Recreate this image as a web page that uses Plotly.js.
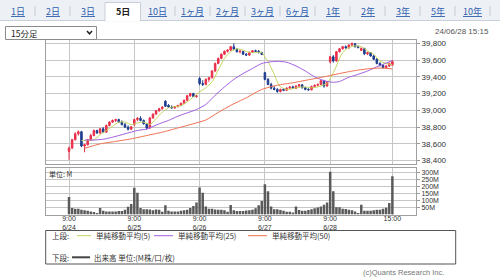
<!DOCTYPE html>
<html><head><meta charset="utf-8">
<script src="https://cdn.plot.ly/plotly-3.0.1.min.js"></script>
<style>html,body{margin:0;padding:0;background:#fff;}#chart{width:500px;height:280px;}</style>
</head><body><div id="chart"></div>
<script>
// ---- data ----
const days = ['6/24','6/25','6/26','6/27','6/28'];
const times = ['9:00','9:15','9:30','9:45','10:00','10:15','10:30','10:45','11:00','11:15',
               '12:30','12:45','13:00','13:15','13:30','13:45','14:00','14:15','14:30','14:45','15:00'];
const openP = [
38510,38550,38650,38720,38745,38575,38590,38650,38700,38760,38730,38780,38740,38820,38860,38880,38890,38860,38830,38800,38775,
38830,38890,38905,38880,38840,38790,38910,38955,38995,39020,39110,39060,39040,39030,39045,39060,39085,39120,39175,39200,39165,
39380,39320,39310,39370,39390,39470,39560,39620,39670,39705,39720,39760,39730,39700,39705,39670,39660,39695,39712,39705,39690,
39450,39370,39310,39265,39250,39225,39250,39240,39265,39280,39262,39290,39305,39270,39250,39245,39285,39300,39310,39355,39290,
39580,39640,39590,39700,39735,39760,39745,39780,39795,39760,39715,39740,39675,39690,39650,39610,39560,39535,39510,39530,39540];
const highP = [
38570,38660,38740,38760,38755,38600,38660,38720,38770,38770,38790,38800,38830,38870,38890,38900,38900,38880,38850,38820,38810,
38900,38920,38930,38890,38850,38920,38965,39005,39030,39050,39120,39075,39060,39050,39065,39090,39130,39185,39210,39210,39185,
39400,39360,39380,39400,39480,39570,39630,39680,39715,39730,39770,39800,39745,39720,39710,39685,39700,39720,39725,39720,39700,
39460,39385,39330,39290,39265,39260,39262,39275,39290,39295,39300,39315,39310,39280,39265,39295,39310,39320,39360,39365,39350,
39650,39660,39710,39745,39770,39775,39790,39810,39800,39775,39750,39745,39700,39695,39665,39625,39575,39550,39540,39570,39600];
const lowP = [
38410,38540,38640,38700,38560,38500,38580,38640,38690,38720,38720,38730,38730,38810,38850,38860,38850,38820,38790,38760,38770,
38810,38870,38870,38830,38770,38780,38900,38950,38985,39010,39040,39030,39020,39020,39035,39050,39075,39110,39160,39160,39150,
39300,39290,39300,39340,39380,39460,39550,39610,39660,39690,39710,39720,39690,39680,39660,39650,39650,39685,39700,39680,39660,
39360,39300,39250,39240,39210,39215,39230,39230,39255,39255,39255,39275,39260,39240,39235,39240,39275,39285,39300,39270,39285,
39560,39570,39580,39690,39725,39740,39740,39770,39750,39740,39710,39660,39660,39640,39600,39550,39525,39500,39495,39520,39530];
const closeP = [
38550,38650,38720,38745,38575,38590,38650,38700,38760,38730,38780,38740,38820,38860,38880,38890,38860,38830,38800,38775,38804,
38890,38905,38880,38840,38790,38910,38955,38995,39020,39040,39050,39040,39030,39045,39060,39085,39120,39175,39200,39165,39173,
39320,39310,39370,39390,39470,39560,39620,39670,39705,39720,39760,39730,39700,39705,39670,39660,39695,39712,39705,39690,39667,
39370,39310,39265,39250,39225,39250,39240,39265,39280,39262,39290,39305,39270,39250,39245,39285,39300,39310,39355,39290,39341,
39640,39590,39700,39735,39760,39745,39780,39795,39760,39750,39740,39675,39690,39650,39610,39560,39535,39510,39530,39560,39583];
const volumeM = [
125,46,41,41,34,30,27,22,18,10,46,27,22,22,22,22,25,25,34,55,75,
190,155,46,38,38,35,30,35,33,20,65,27,22,22,22,27,30,34,46,60,85,
192,155,56,40,40,35,33,33,30,20,68,30,25,25,25,28,30,33,45,65,95,
215,165,56,37,37,32,27,20,20,15,56,32,27,27,32,37,44,50,56,70,85,
303,165,51,51,41,39,34,30,22,10,70,27,27,27,30,34,34,41,48,82,272];
// moving averages (bar index, value)
const ma5Idx = [4,6,8,10,12,14,16,18,20,22,24,26,28,30,32,34,36,38,40,42,44,46,48,50,52,54,56,58,60,62,63,64,65,66,67,68,70,72,74,76,78,80,82,83,84,85,86,87,88,90,92,94,96,98,100,102,104];
const ma5Val = [38640,38640,38650,38710,38760,38810,38860,38860,38830,38850,38860,38830,38900,38980,39030,39045,39055,39100,39160,39220,39270,39340,39480,39620,39700,39735,39720,39690,39690,39690,39640,39580,39510,39430,39340,39280,39250,39260,39275,39280,39270,39280,39305,39320,39380,39450,39530,39620,39690,39750,39770,39760,39710,39670,39590,39560,39545];
const ma25Idx = [5,8,11,14,18,22,25,29,32,35,38,41,44,47,50,53,56,59,62,65,67,70,73,76,79,82,85,87,90,93,96,99,102,104];
const ma25Val = [38646,38646,38655,38680,38720,38760,38778,38840,38880,38930,38970,39010,39070,39180,39280,39370,39440,39500,39560,39580,39585,39575,39530,39470,39400,39355,39335,39345,39395,39430,39470,39520,39565,39595];
const ma50Idx = [5,10,15,20,25,30,35,40,44,48,52,57,62,67,72,77,82,87,92,97,101,104];
const ma50Val = [38547,38600,38630,38660,38700,38740,38790,38840,38885,38975,39060,39150,39250,39300,39330,39365,39400,39440,39475,39500,39505,39495];
const priceTicks = [38400,38600,38800,39000,39200,39400,39600,39800];
const volTicks = [50,100,150,200,250,300];
const tabLabels = ['1日','2日','3日','5日','10日','1ヶ月','2ヶ月','3ヶ月','6ヶ月','1年','2年','3年','5年','10年'];
const selectedTab = '5日';
const legendItems = ['単純移動平均(5)','単純移動平均(25)','単純移動平均(50)'];

// ---- build ----
const cats = [];
days.forEach(d => times.forEach(t => cats.push(d + ' ' + t)));
const tickCats = days.map(d => d + ' 9:00').concat([days[days.length-1] + ' 15:00']);
const tickText = days.map(d => '9:00<br>' + d).concat(['15:00']);
const W = 500, H = 280;
const X = v => v / W, Y = v => 1 - v / H;
const JP = '"Noto Sans CJK JP", sans-serif';
const RED = '#e8304a', NAVY = '#1f3d8f';
const C5 = '#c3d75e', C25 = '#a25ee0', C50 = '#f07050';

const traces = [
  {type:'candlestick', x:cats, open:openP, high:highP, low:lowP, close:closeP, xaxis:'x', yaxis:'y',
   increasing:{line:{color:RED,width:1}, fillcolor:RED}, decreasing:{line:{color:NAVY,width:1}, fillcolor:NAVY},
   whiskerwidth:0, hoverinfo:'skip', name:'price'},
  {type:'scatter', mode:'lines', x:ma5Idx.map(i=>cats[i]), y:ma5Val, xaxis:'x', yaxis:'y', line:{color:C5,width:1,shape:'spline',smoothing:0.6}, hoverinfo:'skip', name:legendItems[0]},
  {type:'scatter', mode:'lines', x:ma25Idx.map(i=>cats[i]), y:ma25Val, xaxis:'x', yaxis:'y', line:{color:C25,width:1,shape:'spline',smoothing:0.6}, hoverinfo:'skip', name:legendItems[1]},
  {type:'scatter', mode:'lines', x:ma50Idx.map(i=>cats[i]), y:ma50Val, xaxis:'x', yaxis:'y', line:{color:C50,width:1,shape:'spline',smoothing:0.6}, hoverinfo:'skip', name:legendItems[2]},
  {type:'bar', x:cats, y:volumeM, xaxis:'x2', yaxis:'y2', marker:{color:'#5a5a5a', line:{width:0}}, width:0.8, hoverinfo:'skip', name:'出来高'}
];

const shapes = [];
const ann = [];
// tab bar
shapes.push({type:'rect', xref:'paper', yref:'paper', x0:0, x1:1, y0:Y(20.5), y1:1, fillcolor:'#edf1f6', line:{width:0}});
shapes.push({type:'line', xref:'paper', yref:'paper', x0:0, x1:1, y0:Y(20.5), y1:Y(20.5), line:{color:'#c9cfd8',width:1}});
tabLabels.forEach((t,k) => {
  const cx = 17.5 + 35*k;
  if (t === selectedTab) {
    shapes.push({type:'rect', xref:'paper', yref:'paper', x0:X(105), x1:X(140.5), y0:Y(21), y1:Y(2.5), fillcolor:'#ffffff', line:{color:'#c9cfd8',width:1}});
    shapes.push({type:'line', xref:'paper', yref:'paper', x0:X(105.6), x1:X(139.9), y0:Y(20.8), y1:Y(20.8), line:{color:'#ffffff',width:2}});
    ann.push({text:'<b>'+t+'</b>', x:X(cx), y:Y(12), xref:'paper', yref:'paper', showarrow:false, xanchor:'center', yanchor:'middle', font:{family:JP, size:9, color:'#222'}});
  } else {
    ann.push({text:'<u>'+t+'</u>', x:X(cx), y:Y(12), xref:'paper', yref:'paper', showarrow:false, xanchor:'center', yanchor:'middle', font:{family:JP, size:9, color:'#2f5fae'}});
  }
  const sx = 35*(k+1);
  if (k !== 2 && k !== 3 && sx < 500) shapes.push({type:'line', xref:'paper', yref:'paper', x0:X(sx), x1:X(sx), y0:Y(16), y1:Y(6), line:{color:'#c5cbd4',width:1}});
});
// dropdown
shapes.push({type:'rect', xref:'paper', yref:'paper', x0:X(5.5), x1:X(96.5), y0:Y(39.5), y1:Y(26.5), fillcolor:'#fff', line:{color:'#8a8a8a',width:1}});
shapes.push({type:'path', xref:'paper', yref:'paper', path:'M '+X(87)+' '+Y(31)+' L '+X(89.5)+' '+Y(33.8)+' L '+X(92)+' '+Y(31), line:{color:'#222',width:1.5}});
ann.push({text:'15分足', x:X(9), y:Y(33), xref:'paper', yref:'paper', showarrow:false, xanchor:'left', yanchor:'middle', font:{family:JP, size:8.5, color:'#222'}});
ann.push({text:'24/06/28 15:15', x:X(491), y:Y(31.5), xref:'paper', yref:'paper', showarrow:false, xanchor:'right', yanchor:'middle', font:{family:'"Liberation Sans", Arial, sans-serif', size:8, color:'#555'}});
ann.push({text:'単位: M', x:X(47), y:Y(174), xref:'paper', yref:'paper', showarrow:false, xanchor:'left', yanchor:'middle', font:{family:JP, size:7, color:'#333'}});
// legend box
shapes.push({type:'rect', xref:'paper', yref:'paper', x0:X(45.7), x1:X(455.7), y0:Y(264), y1:Y(230.5), fillcolor:'rgba(0,0,0,0)', line:{color:'#555',width:1}});
const lgY1 = 235.7, lgY2 = 257.3;
ann.push({text:'上段:', x:X(50), y:Y(lgY1), xref:'paper', yref:'paper', showarrow:false, xanchor:'left', yanchor:'middle', font:{family:JP, size:7.5, color:'#333'}});
ann.push({text:'下段:', x:X(50), y:Y(lgY2), xref:'paper', yref:'paper', showarrow:false, xanchor:'left', yanchor:'middle', font:{family:JP, size:7.5, color:'#333'}});
const lgLines = [[77,91,C5],[154,173,C25],[248,267,C50]];
const lgText = [94,176,270];
lgLines.forEach((l,k) => {
  shapes.push({type:'line', xref:'paper', yref:'paper', x0:X(l[0]), x1:X(l[1]), y0:Y(lgY1), y1:Y(lgY1), line:{color:l[2],width:1}});
  ann.push({text:legendItems[k], x:X(lgText[k]), y:Y(lgY1), xref:'paper', yref:'paper', showarrow:false, xanchor:'left', yanchor:'middle', font:{family:JP, size:7.5, color:'#333'}});
});
shapes.push({type:'line', xref:'paper', yref:'paper', x0:X(72), x1:X(90), y0:Y(lgY2), y1:Y(lgY2), line:{color:'#444',width:2}});
ann.push({text:'出来高 単位:(M株/口/枚)', x:X(92), y:Y(lgY2), xref:'paper', yref:'paper', showarrow:false, xanchor:'left', yanchor:'middle', font:{family:JP, size:7.5, color:'#333'}});
ann.push({text:'(c)Quants Research Inc.', x:X(446), y:Y(272), xref:'paper', yref:'paper', showarrow:false, xanchor:'right', yanchor:'middle', font:{family:'"Liberation Sans", Arial, sans-serif', size:7.5, color:'#777'}});

const gridC = '#c6c6c6', frameC = '#a0a0a0';
const layout = {
  width:W, height:H, margin:{l:0,r:0,t:0,b:0}, paper_bgcolor:'#fff', plot_bgcolor:'#fff', showlegend:false,
  font:{family:'"Liberation Sans", Arial, sans-serif', size:8, color:'#333'},
  xaxis:{type:'category', domain:[X(46),X(416)], range:[-7.4,111.6], anchor:'y', tickvals:tickCats, showticklabels:false,
         showgrid:true, gridcolor:gridC, showline:true, mirror:true, linecolor:frameC, ticks:'', zeroline:false,
         rangeslider:{visible:false}, fixedrange:true},
  yaxis:{domain:[Y(164),Y(40)], range:[38360,39840], side:'right', anchor:'x', tickvals:priceTicks, tickformat:',d',
         ticks:'outside', ticklen:3, tickcolor:'#999', showgrid:true, gridcolor:gridC, showline:true, mirror:true,
         linecolor:frameC, zeroline:false, tickfont:{size:8, color:'#333'}, fixedrange:true},
  xaxis2:{type:'category', domain:[X(46),X(416)], range:[-7.4,111.6], anchor:'y2', tickvals:tickCats, ticktext:tickText,
          showgrid:true, gridcolor:gridC, showline:true, mirror:true, linecolor:frameC, ticks:'', zeroline:false,
          ticklabelstandoff:-3, tickfont:{size:7, color:'#333'}, fixedrange:true},
  yaxis2:{domain:[Y(214.5),Y(168)], range:[0,330], side:'right', anchor:'x2', tickvals:volTicks, ticktext:volTicks.map(v=>v+'M'),
          ticks:'outside', ticklen:3, tickcolor:'#999', showgrid:true, gridcolor:gridC, showline:true, mirror:true,
          linecolor:frameC, zeroline:false, tickfont:{size:7, color:'#333'}, fixedrange:true},
  shapes:shapes, annotations:ann, bargap:0.2
};
Plotly.newPlot('chart', traces, layout, {staticPlot:true, displayModeBar:false});
</script></body></html>
